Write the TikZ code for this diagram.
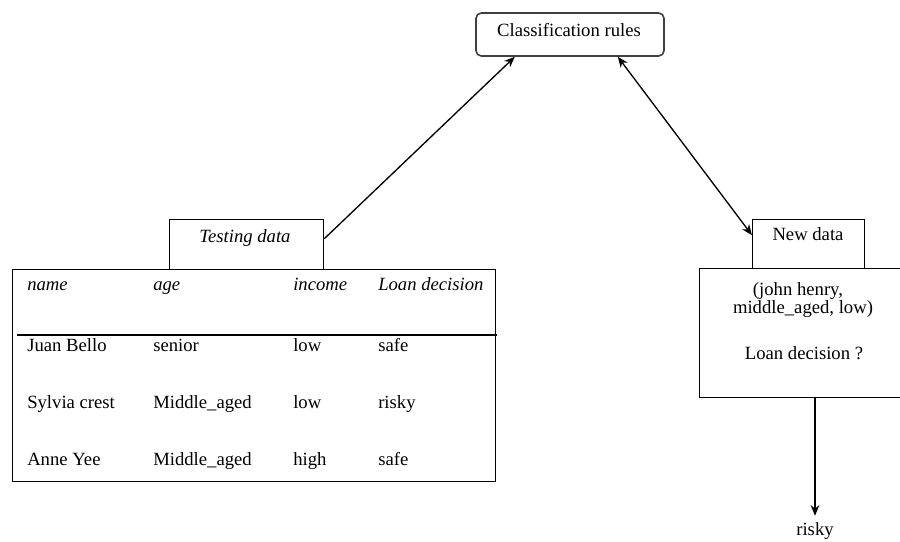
\documentclass[tikz,border=0pt]{standalone}
\usepackage{fontspec}
\setmainfont{Liberation Serif}
\usepackage{tikz}
\usetikzlibrary{arrows.meta,positioning,calc}
\newcommand{\bodysize}{\fontsize{14}{14.5}\selectfont}
\tikzset{
  plainbox/.style={draw,line width=1pt,anchor=north west,inner sep=0pt},
  cell/.style={anchor=base west,inner sep=0pt,font=\bodysize},
  txt/.style={anchor=base,inner sep=0pt,font=\bodysize},
  link/.style={line width=1pt,-{Stealth[length=8pt,width=6.5pt]}},
}

\begin{document}
\begin{tikzpicture}[x=0.75pt,y=-0.75pt]
  \useasboundingbox (0,0) rectangle (900,542);
  % rules on top
  \node[plainbox,anchor=center,rounded corners=4pt,draw=black!75,line width=1.2pt,
        minimum width=141pt,minimum height=32.25pt] (rules) at (570,34.5) {};
  \node[txt] (ruleslab) at (569,37) {Classification rules};
  % testing data and its table
  \node[plainbox,minimum width=115.5pt,minimum height=37.5pt] (test) at (169,219) {};
  \node[txt,font=\bodysize\itshape] (testlab) at (245,242) {Testing data};
  \node[plainbox,minimum width=362.25pt,minimum height=159pt] (table) at (12,269) {};
  \draw[line width=1pt] (17,335) -- (497,335);
  \foreach \hd/\xx [count=\j] in {name/27,age/153,income/293,Loan decision/378}
    \node[cell,font=\bodysize\itshape] (head\j) at (\xx,290) {\hd};
  \foreach \nm/\ag/\inc/\dec/\yy [count=\i] in {
      Juan Bello/senior/low/safe/351,
      Sylvia crest/Middle\_aged/low/risky/408,
      Anne Yee/Middle\_aged/high/safe/465} {
    \node[cell] (nm\i) at (27,\yy) {\nm};
    \node[cell] (ag\i) at (153,\yy) {\ag};
    \node[cell] (inc\i) at (293,\yy) {\inc};
    \node[cell] (dec\i) at (378,\yy) {\dec};
  }
  % new data and the query
  \node[plainbox,minimum width=84pt,minimum height=36.75pt] (newd) at (752,219) {};
  \node[txt] (newdlab) at (808,240) {New data};
  \node[plainbox,minimum width=153pt,minimum height=96.75pt] (query) at (699,268) {};
  \node[txt] (qa) at (798,295) {(john henry,};
  \node[txt] (qb) at (803,313) {middle\_aged, low)};
  \node[txt] (qc) at (804,359) {Loan decision ?};
  \node[txt,inner sep=4.5pt] (risky) at (815,535) {risky};
  % connectors
  \draw[link] ([yshift=4.5pt]test.east) -- (rules.202);
  \draw[link,{Stealth[length=8pt,width=6.5pt]}-{Stealth[length=8pt,width=6.5pt]}] (rules.335) -- (newd.171);
  \draw[link] (query.south -| risky.north) -- (risky.north);
\end{tikzpicture}
\end{document}
